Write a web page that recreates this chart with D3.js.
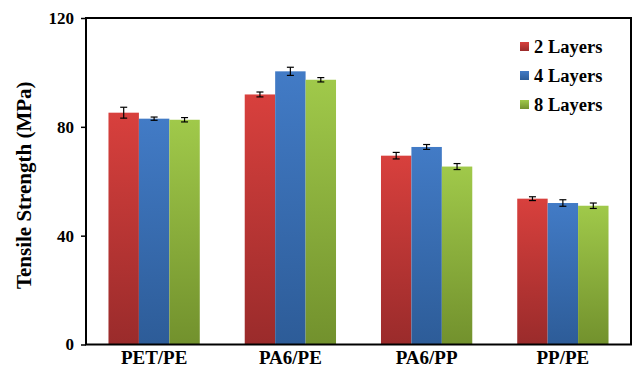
<!DOCTYPE html>
<html><head><meta charset="utf-8">
<script src="https://cdn.jsdelivr.net/npm/d3@7"></script>
<style>body{margin:0;background:#fff}svg{display:block}
svg text{font-family:"Liberation Serif","Times New Roman",Times,"DejaVu Serif",serif !important;font-weight:bold;fill:#000}</style>
</head><body>
<svg id="c" width="633" height="367"></svg>
<script>
const categories = ["PET/PE", "PA6/PE", "PA6/PP", "PP/PE"];
const seriesNames = ["2 Layers", "4 Layers", "8 Layers"];
const layers2 = [85.2, 91.9, 69.4, 53.6];
const layers4 = [83.0, 100.4, 72.6, 52.0];
const layers8 = [82.6, 97.3, 65.4, 51.0];
const err2 = [2.0, 0.9, 1.2, 0.7];
const err4 = [0.6, 1.5, 0.9, 1.2];
const err8 = [0.8, 0.8, 1.1, 1.0];
const yTicks = [0, 40, 80, 120];

const values = [layers2, layers4, layers8];
const errs = [err2, err4, err8];
const colors = [
  {top: "#d8403d", bot: "#9a2b2b"},
  {top: "#427bc6", bot: "#2d5c98"},
  {top: "#a0c94a", bot: "#72912d"}
];

const svg = d3.select("#c");
const L = 86, R = 631, T = 18, B = 344.5;

const x = d3.scaleBand().domain(categories).range([L, R]).paddingInner(0.33).paddingOuter(0.165);
const xs = d3.scaleBand().domain(seriesNames).range([0, x.bandwidth()]);
const y = d3.scaleLinear().domain([0, 120]).range([B, T]);

const defs = svg.append("defs");
colors.forEach((c, i) => {
  const g = defs.append("linearGradient").attr("id", "g" + i).attr("x1", 0).attr("y1", 0).attr("x2", 0).attr("y2", 1);
  g.append("stop").attr("offset", "0%").attr("stop-color", c.top);
  g.append("stop").attr("offset", "100%").attr("stop-color", c.bot);
});

seriesNames.forEach((s, si) => {
  svg.append("g").selectAll("rect").data(categories).join("rect")
    .attr("x", d => x(d) + xs(s))
    .attr("y", (d, i) => y(values[si][i]))
    .attr("width", xs.bandwidth())
    .attr("height", (d, i) => B - y(values[si][i]))
    .attr("fill", "url(#g" + si + ")");
});

seriesNames.forEach((s, si) => {
  const g = svg.append("g").attr("stroke", "#000").attr("stroke-width", 1.2);
  categories.forEach((c, i) => {
    const cx = x(c) + xs(s) + xs.bandwidth() / 2;
    const v = values[si][i], e = errs[si][i];
    g.append("line").attr("x1", cx).attr("x2", cx).attr("y1", y(v + e)).attr("y2", y(v - e));
    g.append("line").attr("x1", cx - 3.5).attr("x2", cx + 3.5).attr("y1", y(v + e)).attr("y2", y(v + e));
    g.append("line").attr("x1", cx - 3.5).attr("x2", cx + 3.5).attr("y1", y(v - e)).attr("y2", y(v - e));
  });
});

svg.append("rect").attr("x", L).attr("y", T).attr("width", R - L).attr("height", B - T)
  .attr("fill", "none").attr("stroke", "#000").attr("stroke-width", 2);

const yAxis = d3.axisLeft(y).tickValues(yTicks).tickSize(5).tickPadding(7);
const ya = svg.append("g").attr("transform", `translate(${L},0)`).call(yAxis);
ya.select(".domain").remove();
ya.selectAll("line").attr("stroke", "#000").attr("stroke-width", 1.5);
ya.selectAll("text").style("font-size", "17px");

const xa = svg.append("g").attr("transform", `translate(0,${B})`).call(d3.axisBottom(x).tickSize(0).tickPadding(6));
xa.select(".domain").remove();
xa.selectAll("text").style("font-size", "19px");

svg.append("text").attr("transform", `translate(31,${(T + B) / 2 + 4}) rotate(-90)`)
  .attr("text-anchor", "middle").style("font-size", "21px")
  .text("Tensile Strength (MPa)");

const lg = svg.append("g");
seriesNames.forEach((s, i) => {
  const yy = 47 + i * 29;
  lg.append("rect").attr("x", 520).attr("y", yy - 5).attr("width", 9).attr("height", 9).attr("fill", "url(#g" + i + ")");
  lg.append("text").attr("x", 534).attr("y", yy + 6).style("font-size", "18.5px").text(s);
});
</script>
</body></html>
